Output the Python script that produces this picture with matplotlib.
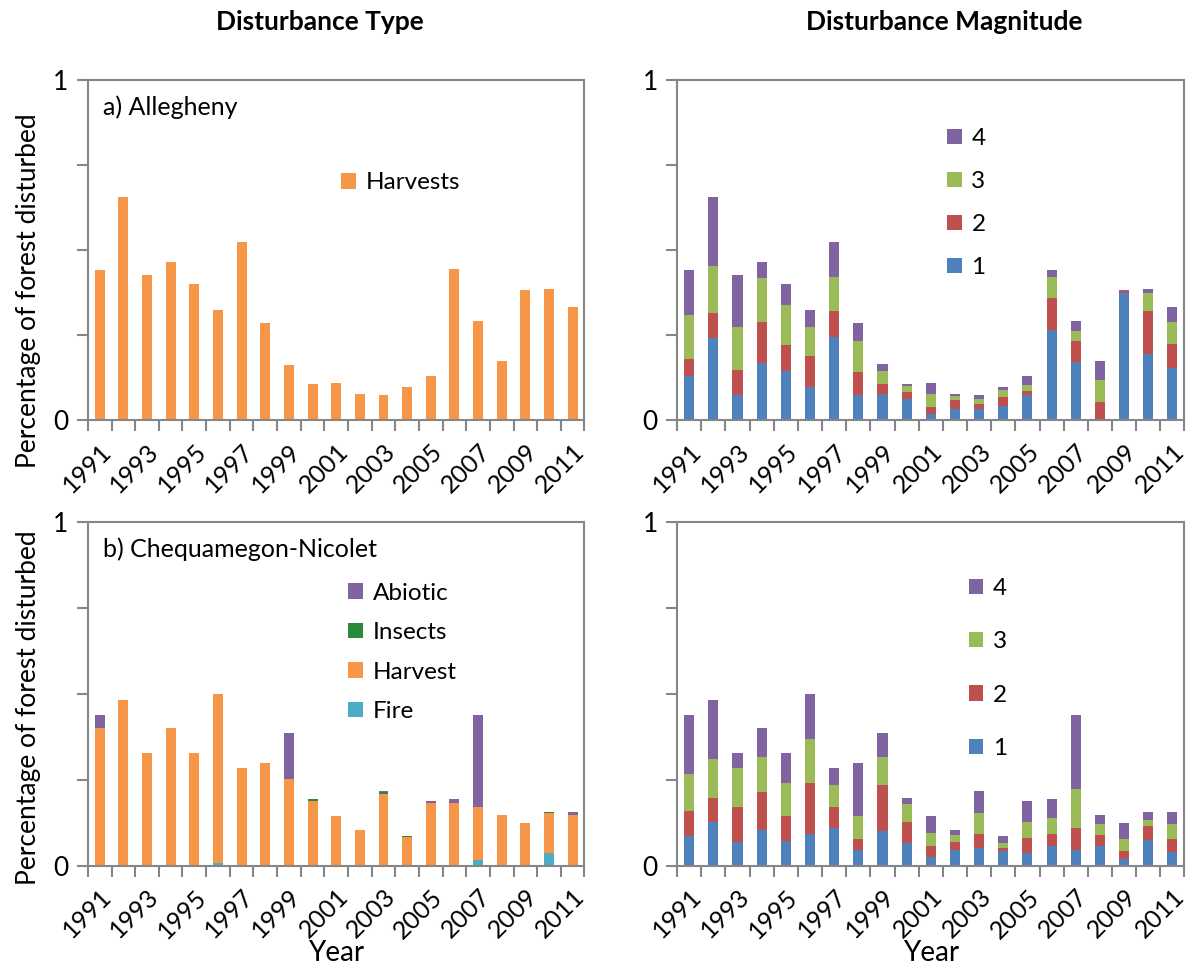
import numpy as np
import matplotlib
matplotlib.use("Agg")
import matplotlib.pyplot as plt

plt.rcParams['font.family'] = ['Lato', 'DejaVu Sans']

years = list(range(1991, 2012))

# a) Allegheny - disturbance type
alle_harvests = [0.442, 0.656, 0.427, 0.466, 0.401, 0.324, 0.524, 0.285, 0.163, 0.107, 0.109,
                 0.078, 0.074, 0.098, 0.129, 0.444, 0.291, 0.174, 0.383, 0.386, 0.332]

# Allegheny - magnitude classes
alle_m1 = [0.130, 0.242, 0.074, 0.167, 0.146, 0.099, 0.244, 0.075, 0.076, 0.063, 0.017,
           0.032, 0.034, 0.043, 0.073, 0.265, 0.171, 0.002, 0.373, 0.195, 0.155]
alle_m2 = [0.050, 0.074, 0.075, 0.121, 0.075, 0.091, 0.078, 0.067, 0.031, 0.020, 0.022,
           0.026, 0.013, 0.025, 0.013, 0.094, 0.063, 0.053, 0.006, 0.127, 0.070]
alle_m3 = [0.128, 0.138, 0.125, 0.129, 0.117, 0.085, 0.098, 0.091, 0.037, 0.018, 0.037,
           0.014, 0.014, 0.020, 0.019, 0.062, 0.028, 0.062, 0.002, 0.053, 0.063]
alle_m4 = [0.133, 0.202, 0.153, 0.049, 0.063, 0.049, 0.104, 0.052, 0.020, 0.006, 0.033,
           0.006, 0.013, 0.010, 0.024, 0.022, 0.029, 0.057, 0.002, 0.011, 0.044]

# b) Chequamegon-Nicolet - disturbance type
cn_fire = [0.0, 0.0, 0.0, 0.0, 0.0, 0.006, 0.0, 0.0, 0.0, 0.0, 0.0,
           0.0, 0.0, 0.0, 0.0, 0.0, 0.016, 0.0, 0.0, 0.035, 0.0]
cn_harvest = [0.401, 0.481, 0.328, 0.400, 0.327, 0.494, 0.284, 0.298, 0.252, 0.189, 0.145,
              0.103, 0.207, 0.084, 0.183, 0.181, 0.154, 0.148, 0.123, 0.117, 0.148]
cn_insects = [0.0, 0.0, 0.0, 0.0, 0.0, 0.0, 0.0, 0.0, 0.0, 0.004, 0.0,
              0.001, 0.006, 0.001, 0.0, 0.0, 0.0, 0.0, 0.0, 0.003, 0.0]
cn_abiotic = [0.036, 0.0, 0.0, 0.0, 0.0, 0.0, 0.0, 0.0, 0.133, 0.0, 0.0,
              0.0, 0.004, 0.0, 0.004, 0.012, 0.269, 0.0, 0.0, 0.0, 0.007]

# Chequamegon-Nicolet - magnitude classes
cn_m1 = [0.087, 0.128, 0.068, 0.103, 0.070, 0.093, 0.110, 0.044, 0.100, 0.065, 0.025,
         0.044, 0.050, 0.041, 0.036, 0.056, 0.045, 0.056, 0.018, 0.075, 0.038]
cn_m2 = [0.073, 0.068, 0.101, 0.110, 0.073, 0.146, 0.059, 0.034, 0.134, 0.062, 0.033,
         0.025, 0.043, 0.011, 0.044, 0.035, 0.063, 0.032, 0.023, 0.041, 0.039]
cn_m3 = [0.107, 0.113, 0.115, 0.102, 0.097, 0.129, 0.066, 0.067, 0.083, 0.053, 0.037,
         0.021, 0.059, 0.013, 0.046, 0.048, 0.116, 0.032, 0.037, 0.017, 0.044]
cn_m4 = [0.170, 0.171, 0.044, 0.086, 0.086, 0.132, 0.049, 0.153, 0.069, 0.015, 0.050,
         0.014, 0.064, 0.020, 0.062, 0.055, 0.215, 0.028, 0.045, 0.022, 0.035]

c_blue = '#4F81BD'
c_red = '#C0504D'
c_green = '#9BBB59'
c_purple = '#8064A2'
c_orange = '#F79646'
c_aqua = '#4BACC6'
c_insect = '#2A8A3A'
c_axis = '#868686'

fs = 17.5


def stacked(ax, series, labels, colors, legend_pos, spacing):
    x = np.arange(len(years))
    bottom = np.zeros(len(years))
    handles = []
    for vals, lab, col in zip(series, labels, colors):
        b = ax.bar(x, vals, 0.42, bottom=bottom, color=col, label=lab, linewidth=0)
        handles.append(b)
        bottom = bottom + np.array(vals)
    ax.set_xlim(-0.5, len(years) - 0.5)
    ax.set_ylim(0, 1)
    ax.set_yticks([0, 0.25, 0.5, 0.75, 1])
    ax.set_yticklabels(['0', '', '', '', '1'], fontsize=19)
    ax.set_xticks(x[::2])
    ax.set_xticklabels([str(y) for y in years[::2]], rotation=45, ha='right',
                       rotation_mode='anchor', fontsize=18)
    ax.set_xticks(np.arange(-0.5, len(years), 1), minor=True)
    ax.tick_params(axis='x', which='major', length=0, pad=14)
    ax.tick_params(axis='x', which='minor', length=8, width=1.5, color=c_axis)
    ax.tick_params(axis='y', length=8, width=1.5, color=c_axis, pad=6)
    for s in ax.spines.values():
        s.set_color(c_axis)
        s.set_linewidth(1.5)
    leg = ax.legend(handles[::-1], labels[::-1], loc='upper left', bbox_to_anchor=legend_pos,
                    frameon=False, fontsize=fs, handlelength=0.6, handleheight=0.6,
                    handletextpad=0.4, labelspacing=spacing)
    return leg


fig = plt.figure(figsize=(11.88, 9.66), dpi=100)

ax1 = fig.add_axes([0.074, 0.565, 0.418, 0.352])
ax2 = fig.add_axes([0.570, 0.565, 0.427, 0.352])
ax3 = fig.add_axes([0.074, 0.104, 0.418, 0.356])
ax4 = fig.add_axes([0.570, 0.104, 0.427, 0.356])

stacked(ax1, [alle_harvests], ['Harvests'], [c_orange], (0.466, 0.793), 0.5)
stacked(ax2, [alle_m1, alle_m2, alle_m3, alle_m4], ['1', '2', '3', '4'],
        [c_blue, c_red, c_green, c_purple], (0.489, 0.923), 0.9)
stacked(ax3, [cn_fire, cn_harvest, cn_insects, cn_abiotic],
        ['Fire', 'Harvest', 'Insects', 'Abiotic'],
        [c_aqua, c_orange, c_insect, c_purple], (0.48, 0.886), 0.76)
stacked(ax4, [cn_m1, cn_m2, cn_m3, cn_m4], ['1', '2', '3', '4'],
        [c_blue, c_red, c_green, c_purple], (0.532, 0.90), 1.33)

ax1.text(0.03, 0.955, 'a) Allegheny', transform=ax1.transAxes, fontsize=18, va='top')
ax3.text(0.03, 0.955, 'b) Chequamegon-Nicolet', transform=ax3.transAxes, fontsize=18, va='top')

ax1.set_ylabel('Percentage of forest disturbed', fontsize=19)
ax3.set_ylabel('Percentage of forest disturbed', fontsize=19)
ax1.yaxis.set_label_coords(-0.095, 0.38)
ax3.yaxis.set_label_coords(-0.095, 0.46)

for ax in (ax3, ax4):
    pos = ax.get_position()
    fig.text(pos.x0 + pos.width / 2, 0.0, 'Year', fontsize=20, ha='center', va='bottom')

fig.text(0.269, 0.977, 'Disturbance Type', fontsize=19, fontweight='bold',
         ha='center', va='center')
fig.text(0.795, 0.977, 'Disturbance Magnitude', fontsize=19, fontweight='bold',
         ha='center', va='center')

fig.savefig('out.png', dpi=100)
